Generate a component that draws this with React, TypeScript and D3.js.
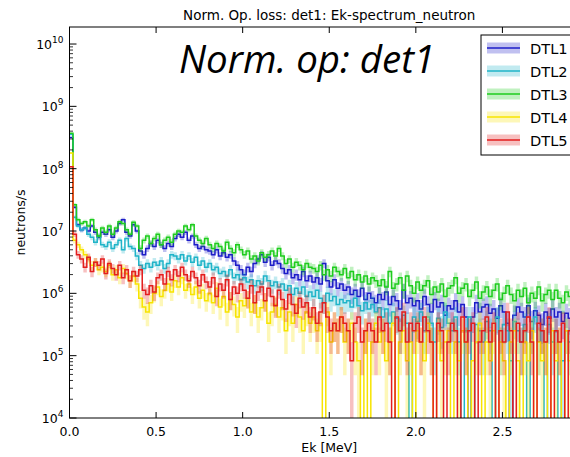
import React from 'react';
import * as d3 from 'd3';

// ---- data (log10 of neutrons/s per 0.02 MeV bin, 0 = empty bin) ----
const BIN_WIDTH = 0.02;
const COUNT_LOG = 4.92; // log10 of the weight of a single count

const seriesNames = ['DTL1', 'DTL2', 'DTL3', 'DTL4', 'DTL5'];
const seriesColors = ['#1c1cc8', '#1fb4c8', '#1ecc1e', '#f7e400', '#e31e1e'];

const xTicks = [0, 0.5, 1.0, 1.5, 2.0, 2.5, 3.0];
const xTickLabels = ['0.0', '0.5', '1.0', '1.5', '2.0', '2.5', ''];
const yDecades = [4, 5, 6, 7, 8, 9, 10];

const dtl1 = [
  8.5, 7.38, 7.1, 7.02, 7.05, 7.0, 7.08, 6.98, 6.9, 6.98,
  6.95, 7.02, 6.9, 7.0, 7.12, 7.18, 6.98, 6.92, 7.1, 7.0,
  6.68, 6.62, 6.72, 6.8, 6.75, 6.85, 6.78, 6.72, 6.8, 6.75,
  6.88, 6.95, 6.9, 6.98, 6.85, 6.92, 6.78, 6.72, 6.75, 6.7,
  6.68, 6.62, 6.7, 6.6, 6.65, 6.58, 6.62, 6.52, 6.45, 6.38,
  6.3, 6.42, 6.35, 6.48, 6.55, 6.62, 6.5, 6.58, 6.45, 6.52,
  6.48, 6.4, 6.32, 6.38, 6.25, 6.3, 6.22, 6.35, 6.2, 6.28,
  6.18, 6.25, 6.15, 6.48, 6.2, 6.1, 6.22, 6.08, 6.15, 6.05,
  6.1, 5.98, 6.05, 5.95, 6.08, 5.9, 6.0, 5.92, 5.85, 5.98,
  5.9, 6.02, 5.82, 5.95, 5.88, 5.75, 6.05, 5.85, 5.92, 5.8,
  5.88, 5.75, 5.95, 5.82, 5.7, 5.9, 5.78, 5.85, 5.65, 5.8,
  5.75, 5.88, 5.7, 5.82, 5.62, 0, 5.62, 5.85, 5.7, 5.78,
  5.82, 5.68, 5.75, 5.6, 5.8, 5.7, 5.52, 0, 5.65, 5.78,
  5.7, 5.62, 5.8, 5.55, 5.72, 5.65, 5.5, 5.7, 5.6, 5.75,
  5.62, 5.7, 5.55, 5.68, 5.6,
];

const dtl2 = [
  8.55, 7.22, 7.08, 7.02, 7.05, 6.95, 6.9, 6.82, 6.92, 6.78,
  6.75, 6.82, 6.72, 6.78, 6.85, 6.7, 6.88, 6.75, 6.72, 6.6,
  6.45, 6.4, 6.48, 6.42, 6.5, 6.45, 6.52, 6.4, 6.48, 6.62,
  6.6, 6.55, 6.62, 6.52, 6.6, 6.5, 6.58, 6.45, 6.52, 6.42,
  6.48, 6.38, 6.42, 6.32, 6.35, 6.28, 6.38, 6.25, 6.3, 6.22,
  6.25, 6.18, 6.22, 6.12, 6.2, 6.15, 6.28, 6.2, 6.12, 6.18,
  6.1, 6.15, 6.05, 6.12, 5.98, 6.08, 6.0, 6.1, 5.95, 6.02,
  5.95, 6.05, 5.92, 5.85, 6.0, 5.88, 5.95, 5.82, 5.9, 5.85,
  5.88, 5.78, 5.92, 5.8, 5.72, 5.85, 5.75, 5.82, 5.7, 5.77,
  5.62, 5.75, 5.52, 5.7, 5.6, 5.4, 5.65, 5.52, 0, 5.62,
  5.55, 5.7, 5.4, 5.62, 5.52, 5.22, 5.6, 5.45, 5.7, 5.52,
  5.4, 5.62, 5.22, 0, 5.4, 5.62, 0, 5.5, 5.4, 5.22,
  5.55, 5.4, 0, 5.62, 5.22, 5.5, 5.4, 4.92, 5.55, 5.4,
  5.22, 5.5, 0, 5.4, 5.62, 5.22, 5.4, 0, 5.5, 5.22,
  5.4, 0, 4.92, 5.4, 5.22,
];

const dtl3 = [
  8.57, 7.42, 7.18, 7.12, 7.15, 7.08, 7.18, 7.02, 6.92, 7.05,
  6.98, 7.08, 6.95, 7.05, 7.15, 7.12, 7.02, 6.95, 7.14, 7.08,
  6.72, 6.85, 6.92, 6.8, 6.88, 6.95, 6.78, 6.85, 6.9, 6.82,
  6.95, 7.0, 6.98, 7.08, 7.02, 7.1, 6.92, 6.85, 6.8, 6.88,
  6.78, 6.72, 6.8, 6.75, 6.68, 6.82, 6.72, 6.65, 6.78, 6.7,
  6.62, 6.68, 6.55, 6.6, 6.52, 6.65, 6.58, 6.62, 6.68, 6.6,
  6.72, 6.6, 6.48, 6.55, 6.42, 6.5, 6.45, 6.38, 6.48, 6.42,
  6.4, 6.35, 6.45, 6.3, 6.38, 6.28, 6.42, 6.35, 6.3, 6.4,
  6.25, 6.35, 6.22, 6.3, 6.18, 6.28, 6.15, 6.25, 6.2, 6.12,
  6.22, 6.1, 6.35, 6.08, 6.15, 6.25, 6.05, 6.28, 6.12, 6.0,
  6.18, 6.05, 6.12, 6.2, 5.98, 6.1, 6.02, 6.15, 5.95, 6.08,
  6.12, 6.25, 6.0, 6.08, 6.15, 5.95, 6.05, 6.18, 5.92, 6.02,
  6.1, 5.95, 6.05, 6.15, 5.9, 6.0, 6.12, 5.98, 5.88, 6.05,
  5.95, 6.08, 5.85, 6.0, 5.92, 6.1, 5.88, 5.98, 6.05, 5.9,
  6.05, 5.92, 5.85, 6.02, 5.95,
];

const dtl4 = [
  8.25, 6.85, 6.78, 6.7, 6.62, 6.55, 6.45, 6.5, 6.38, 6.42,
  6.35, 6.45, 6.3, 6.38, 6.25, 6.4, 6.32, 6.2, 6.28, 6.15,
  5.92, 5.78, 5.7, 5.85, 6.0, 6.1, 5.95, 6.05, 6.15, 6.02,
  6.2, 6.1, 6.25, 6.05, 6.15, 5.98, 6.1, 5.92, 6.05, 5.88,
  6.0, 5.85, 6.08, 5.78, 5.95, 5.7, 5.9, 5.82, 5.62, 5.88,
  5.8, 5.92, 5.7, 5.85, 5.62, 5.77, 5.88, 5.52, 5.7, 5.82,
  5.62, 5.77, 5.4, 5.7, 5.52, 5.82, 5.62, 5.4, 5.7, 5.52,
  5.62, 5.4, 5.52, 0, 5.7, 5.22, 5.52, 5.4, 5.62, 5.22,
  5.4, 5.52, 5.22, 4.92, 0, 5.4, 0, 5.22, 5.52, 5.22,
  5.4, 4.92, 5.22, 5.52, 0, 5.22, 5.4, 4.92, 5.22, 0,
  5.4, 5.22, 4.92, 5.52, 5.22, 0, 5.4, 4.92, 5.22, 5.4,
  0, 5.22, 4.92, 5.4, 5.22, 0, 4.92, 5.22, 5.52, 0,
  5.22, 4.92, 5.4, 0, 5.22, 4.92, 0, 5.22, 5.4, 4.92,
  0, 5.22, 4.92, 5.4, 0, 5.22, 4.92, 5.22, 0, 5.4,
  4.92, 5.22, 0, 5.4, 4.92,
];

const dtl5 = [
  8.03, 6.95, 6.62, 6.55, 6.42, 6.58, 6.35, 6.5, 6.45, 6.55,
  6.32, 6.48, 6.4, 6.3, 6.45, 6.25, 6.38, 6.2, 6.35, 6.28,
  6.38, 6.05, 5.98, 6.12, 6.02, 6.25, 6.3, 6.15, 6.35, 6.22,
  6.38, 6.28, 6.42, 6.3, 6.2, 6.35, 6.25, 6.12, 6.3, 6.18,
  6.1, 6.25, 5.95, 6.15, 6.05, 6.22, 5.9, 6.1, 6.0, 6.15,
  6.05, 5.92, 6.12, 5.85, 6.02, 6.1, 5.88, 6.08, 5.95, 5.8,
  6.05, 5.9, 5.75, 5.98, 5.82, 5.68, 5.92, 5.78, 5.85, 5.62,
  5.77, 5.52, 5.7, 5.85, 5.62, 5.4, 5.52, 5.4, 5.62, 5.52,
  5.4, 4.92, 5.52, 5.62, 5.22, 5.4, 5.52, 5.4, 5.22, 5.62,
  5.4, 5.52, 5.22, 0, 5.62, 5.4, 5.7, 5.22, 5.52, 5.4,
  5.52, 5.22, 5.62, 5.4, 5.22, 0, 5.52, 5.4, 0, 5.22,
  5.52, 5.4, 0, 5.62, 5.22, 5.4, 5.52, 0, 5.22, 5.4,
  5.62, 5.22, 5.52, 0, 5.4, 5.22, 5.7, 5.4, 0, 5.52,
  5.22, 5.4, 5.62, 5.22, 0, 5.52, 5.4, 5.22, 5.62, 0,
  5.4, 5.22, 5.52, 0, 5.4,
];

const seriesData = [dtl1, dtl2, dtl3, dtl4, dtl5];

// ---- layout ----
const W = 570;
const H = 457;
const LEFT = 69.5;
const RIGHT = 589;
const TOP = 27;
const BOTTOM = 418;
const FONT = 'DejaVu Sans, sans-serif';

type Pt = { e: number; v: number };

export default function App() {
  const x = d3.scaleLinear().domain([0, 3]).range([LEFT, RIGHT]);
  const y = d3.scaleLog().domain([1e4, Math.pow(10, 10.273)]).range([BOTTOM, TOP]);
  const below = BOTTOM + 20;
  const yPos = (v: number) => (v > 0 ? y(Math.max(v, 1)) : below);
  const w = Math.pow(10, COUNT_LOG);

  const toPts = (logs: number[]): Pt[] => {
    const vals = logs.map((l) => (l > 0 ? Math.pow(10, l) : 0));
    const pts = vals.map((v, i) => ({ e: i * BIN_WIDTH, v }));
    pts.push({ e: vals.length * BIN_WIDTH, v: vals[vals.length - 1] });
    return pts;
  };

  const line = d3
    .line<Pt>()
    .x((p) => x(p.e))
    .y((p) => yPos(p.v))
    .curve(d3.curveStepAfter);

  const area = d3
    .area<Pt>()
    .x((p) => x(p.e))
    .y0((p) => (p.v > 0 ? yPos(p.v - Math.sqrt(p.v * w)) : below))
    .y1((p) => (p.v > 0 ? yPos(p.v + Math.sqrt(p.v * w)) : below))
    .curve(d3.curveStepAfter);

  const minorTicks: number[] = [];
  for (let d = 4; d < 11; d++) {
    for (let k = 2; k <= 9; k++) {
      const v = k * Math.pow(10, d);
      if (y(v) >= TOP) minorTicks.push(v);
    }
  }

  const legendY = [48, 71, 94, 117, 140];

  return (
    <svg width={W} height={H} style={{ display: 'block', position: 'absolute', left: 0, top: 0 }} fontFamily={FONT}>
      <rect x={0} y={0} width={W} height={H} fill="#fff" />
      <defs>
        <clipPath id="plotclip">
          <rect x={LEFT} y={TOP} width={RIGHT - LEFT} height={BOTTOM - TOP} />
        </clipPath>
      </defs>

      <g clipPath="url(#plotclip)">
        {seriesData.map((s, i) => {
          const pts = toPts(s);
          return (
            <g key={seriesNames[i]}>
              <path d={area(pts) || ''} fill={seriesColors[i]} fillOpacity={0.28} stroke="none" />
              <path d={line(pts) || ''} fill="none" stroke={seriesColors[i]} strokeWidth={1.5} />
            </g>
          );
        })}
      </g>

      {/* big annotation */}
      <text x={307} y={73} textAnchor="middle" fontFamily="Open Sans, sans-serif" fontStyle="italic" fontSize={38.5}>
        Norm. op: det1
      </text>

      {/* frame */}
      <rect x={LEFT} y={TOP} width={RIGHT - LEFT} height={BOTTOM - TOP} fill="none" stroke="#000" strokeWidth={1} />

      {/* x ticks */}
      {xTicks.map((t, i) => (
        <g key={'xt' + t}>
          <line x1={x(t)} x2={x(t)} y1={BOTTOM} y2={BOTTOM - 6} stroke="#000" />
          <line x1={x(t)} x2={x(t)} y1={TOP} y2={TOP + 6} stroke="#000" />
          {xTickLabels[i] ? (
            <text x={x(t)} y={BOTTOM + 18} textAnchor="middle" fontSize={12.5}>
              {xTickLabels[i]}
            </text>
          ) : null}
        </g>
      ))}

      {/* y ticks */}
      {yDecades.map((d) => {
        const yy = y(Math.pow(10, d));
        return (
          <g key={'yt' + d}>
            <line x1={LEFT} x2={LEFT + 7} y1={yy} y2={yy} stroke="#000" />
            <text x={LEFT - 6} y={yy + 5} textAnchor="end" fontSize={12.5}>
              <tspan>10</tspan>
              <tspan dy={-6} fontSize={9}>
                {d}
              </tspan>
            </text>
          </g>
        );
      })}
      {minorTicks.map((v) => (
        <line key={'mt' + v} x1={LEFT} x2={LEFT + 3.5} y1={y(v)} y2={y(v)} stroke="#000" strokeWidth={0.8} />
      ))}

      {/* labels */}
      <text x={(LEFT + RIGHT) / 2} y={20} textAnchor="middle" fontSize={13.5}>
        Norm. Op. loss: det1: Ek-spectrum_neutron
      </text>
      <text x={(LEFT + RIGHT) / 2} y={452} textAnchor="middle" fontSize={12.5}>
        Ek [MeV]
      </text>
      <text transform={`translate(25, ${(TOP + BOTTOM) / 2}) rotate(-90)`} textAnchor="middle" fontSize={12.5}>
        neutrons/s
      </text>

      {/* legend */}
      <rect x={481} y={35} width={140} height={120} fill="#fff" stroke="#000" strokeWidth={1} />
      {seriesNames.map((n, i) => (
        <g key={'lg' + n}>
          <rect x={487} y={legendY[i] - 5.5} width={33} height={11} fill={seriesColors[i]} fillOpacity={0.28} />
          <line x1={487} x2={520} y1={legendY[i]} y2={legendY[i]} stroke={seriesColors[i]} strokeWidth={1.5} />
          <text x={530} y={legendY[i] + 5.5} fontSize={14.6}>
            {n}
          </text>
        </g>
      ))}
    </svg>
  );
}
